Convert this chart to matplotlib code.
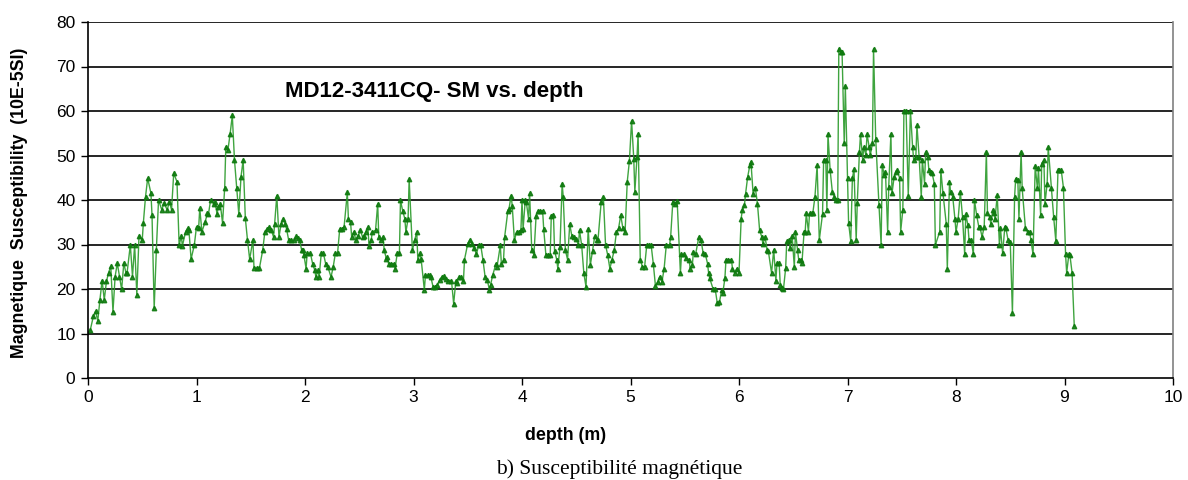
import numpy as np
import matplotlib
matplotlib.use("Agg")
import matplotlib.pyplot as plt

# depth (m) and magnetic susceptibility (10E-5 SI)
depth = [
    0.02, 0.05, 0.07, 0.09, 0.11, 0.13, 0.15, 0.17, 0.19, 0.21, 0.23, 0.25, 0.27, 0.29, 0.31, 0.33, 0.35, 0.36,
    0.39, 0.41, 0.43, 0.45, 0.47, 0.50, 0.51, 0.53, 0.55, 0.58, 0.59, 0.61, 0.63, 0.65, 0.68, 0.70, 0.73, 0.75,
    0.77, 0.79, 0.82, 0.84, 0.86, 0.87, 0.90, 0.92, 0.93, 0.95, 0.98, 1.00, 1.02, 1.03, 1.05, 1.08, 1.10, 1.11,
    1.13, 1.16, 1.17, 1.19, 1.20, 1.22, 1.24, 1.26, 1.27, 1.29, 1.31, 1.33, 1.35, 1.37, 1.39, 1.41, 1.43, 1.45,
    1.47, 1.49, 1.52, 1.53, 1.56, 1.58,
    1.61, 1.63, 1.65, 1.67, 1.69, 1.71, 1.72, 1.74, 1.76, 1.78, 1.80, 1.82, 1.83, 1.85, 1.87, 1.90, 1.92, 1.94,
    1.95, 1.97, 1.98, 1.99, 2.01, 2.02, 2.05, 2.07, 2.09, 2.10, 2.12, 2.13, 2.15, 2.17, 2.19, 2.21, 2.24, 2.26,
    2.28, 2.30, 2.32, 2.34, 2.36, 2.39, 2.40, 2.42, 2.43, 2.45, 2.47, 2.49, 2.51, 2.53, 2.54, 2.56, 2.58, 2.59,
    2.61, 2.62, 2.65, 2.67, 2.68, 2.70, 2.72, 2.73, 2.75, 2.76, 2.77, 2.79, 2.82, 2.83, 2.85, 2.87, 2.88, 2.90,
    2.92, 2.93, 2.95, 2.96, 2.99, 3.01, 3.03, 3.04, 3.06, 3.07, 3.10, 3.11, 3.13, 3.15,
    3.16, 3.18, 3.20, 3.22, 3.24, 3.26, 3.28, 3.30, 3.32, 3.35, 3.37, 3.39, 3.40, 3.42, 3.44, 3.46, 3.47, 3.50,
    3.52, 3.54, 3.56, 3.58, 3.60, 3.62, 3.64, 3.66, 3.68, 3.70, 3.71, 3.73, 3.76, 3.77, 3.80, 3.81, 3.83, 3.84,
    3.87, 3.88, 3.90, 3.91, 3.93, 3.95, 3.97, 3.99, 4.00, 4.01, 4.03, 4.04, 4.06, 4.07, 4.09, 4.11, 4.13, 4.15,
    4.17, 4.19, 4.20, 4.22, 4.24, 4.26, 4.27, 4.29, 4.30, 4.32, 4.33, 4.35, 4.37, 4.38, 4.40, 4.42, 4.44, 4.46,
    4.48, 4.50, 4.52, 4.53, 4.55, 4.57, 4.59, 4.61, 4.63, 4.65, 4.67, 4.69, 4.70,
    4.73, 4.75, 4.77, 4.79, 4.81, 4.83, 4.85, 4.87, 4.89, 4.91, 4.93, 4.95, 4.97, 4.99, 5.01, 5.03, 5.04, 5.06,
    5.07, 5.09, 5.11, 5.13, 5.15, 5.17, 5.19, 5.21, 5.23, 5.25, 5.27, 5.29, 5.31, 5.33, 5.36, 5.37, 5.39, 5.41,
    5.43, 5.46, 5.47, 5.49, 5.51, 5.54, 5.55, 5.57, 5.58, 5.60, 5.63, 5.65, 5.67, 5.69, 5.71, 5.72, 5.73, 5.76,
    5.78, 5.80, 5.82, 5.84, 5.85, 5.87, 5.88, 5.90, 5.93, 5.94, 5.96, 5.98, 6.00, 6.02, 6.03, 6.05, 6.06, 6.08,
    6.10, 6.11, 6.13, 6.15, 6.17, 6.19, 6.21, 6.22, 6.24, 6.26, 6.27, 6.30,
    6.32, 6.34, 6.35, 6.37, 6.38, 6.40, 6.41, 6.43, 6.44, 6.46, 6.47, 6.49, 6.51, 6.52, 6.54, 6.55, 6.57, 6.58,
    6.60, 6.61, 6.62, 6.64, 6.65, 6.67, 6.68, 6.70, 6.72, 6.74, 6.77, 6.78, 6.80, 6.81, 6.82, 6.84, 6.86, 6.88,
    6.89, 6.91, 6.92, 6.94, 6.95, 6.97, 6.98, 7.00, 7.01, 7.03, 7.045, 7.06, 7.08, 7.09, 7.11, 7.12, 7.14, 7.15,
    7.17, 7.18, 7.20, 7.21, 7.23, 7.24, 7.26, 7.29, 7.31, 7.32, 7.34, 7.35, 7.37, 7.38, 7.40, 7.41, 7.43, 7.45,
    7.46, 7.48, 7.49, 7.51, 7.52, 7.54, 7.56, 7.58, 7.60, 7.61, 7.63, 7.64, 7.66, 7.68, 7.69, 7.71, 7.72, 7.74,
    7.75, 7.77, 7.78, 7.80, 7.81, 7.85, 7.86,
    7.88, 7.91, 7.92, 7.94, 7.95, 7.97, 7.99, 8.00, 8.02, 8.04, 8.06, 8.08, 8.09, 8.11, 8.12, 8.14, 8.16, 8.17,
    8.19, 8.21, 8.22, 8.24, 8.26, 8.28, 8.29, 8.31, 8.32, 8.34, 8.35, 8.36, 8.38, 8.40, 8.41, 8.43, 8.45, 8.46,
    8.48, 8.50, 8.52, 8.54, 8.55, 8.57, 8.58, 8.60, 8.61, 8.64, 8.66, 8.68, 8.69, 8.71, 8.73, 8.75, 8.76, 8.78,
    8.79, 8.81, 8.82, 8.84, 8.85, 8.88, 8.90, 8.92, 8.94, 8.95, 8.97, 8.99, 9.01, 9.02, 9.04, 9.05, 9.07, 9.09,
]

sm = [
    10.7, 13.9, 15.0, 12.8, 17.6, 21.9, 17.6, 21.7, 23.7, 25.1, 14.9, 22.8, 25.8, 22.8, 19.9, 25.8, 23.6, 23.6,
    29.9, 22.8, 29.9, 18.7, 31.9, 31.0, 34.8, 40.7, 44.9, 41.5, 36.6, 15.7, 28.8, 40.0, 37.8, 39.3, 37.8, 39.6,
    37.8, 46.0, 44.1, 29.9, 31.8, 29.7, 32.9, 33.7, 33.3, 26.7, 29.9, 34.0, 33.8, 38.1, 32.9, 35.1, 37.0, 36.8,
    40.0, 39.1, 39.6, 36.8, 38.5, 39.0, 34.8, 42.8, 51.9, 51.3, 54.9, 59.0, 49.0, 42.8, 36.8, 45.2, 49.0, 35.9,
    31.0, 26.7, 31.0, 24.7, 24.7, 24.7,
    28.7, 32.8, 33.5, 33.9, 33.2, 31.7, 34.6, 41.0, 31.7, 34.6, 35.8, 34.6, 33.5, 30.9, 30.9, 30.9, 31.8, 31.5,
    30.9, 28.7, 28.7, 27.6, 24.6, 28.0, 28.0, 25.7, 24.2, 22.7, 24.2, 22.7, 28.0, 28.0, 25.7, 25.0, 22.7, 25.0,
    28.0, 28.0, 33.5, 33.5, 33.9, 41.7, 35.8, 35.0, 31.7, 32.8, 30.9, 32.0, 33.2, 31.7, 31.8, 32.8, 33.9, 29.6,
    30.9, 32.8, 33.2, 39.1, 31.7, 30.9, 31.7, 28.7, 26.8, 27.2, 25.7, 25.7, 25.7, 24.6, 28.0, 28.0, 39.9, 37.6,
    35.8, 32.8, 35.8, 44.7, 28.7, 30.9, 32.8, 26.5, 28.0, 26.8, 19.8, 23.1, 23.1, 23.1,
    22.7, 20.5, 20.5, 20.9, 22.0, 22.7, 22.9, 22.2, 21.9, 21.9, 16.7, 21.7, 21.4, 22.7, 22.7, 21.7, 26.6, 30.2,
    31.1, 30.2, 29.3, 27.8, 29.8, 29.8, 26.6, 22.7, 22.0, 19.8, 20.9, 23.1, 25.7, 25.0, 29.8, 25.6, 26.6, 31.7,
    37.6, 38.0, 41.0, 38.7, 30.9, 32.8, 32.8, 33.2, 39.9, 33.5, 39.9, 39.5, 35.8, 41.5, 28.7, 27.7, 36.5, 37.6,
    37.6, 37.6, 33.5, 27.7, 27.7, 27.7, 36.5, 36.7, 28.6, 26.6, 24.6, 29.4, 43.7, 40.7, 28.7, 26.6, 34.6, 31.8,
    31.7, 31.3, 29.8, 33.2, 29.8, 23.5, 20.5, 33.5, 25.4, 28.6, 31.8, 31.1, 30.9,
    39.6, 40.7, 29.9, 27.6, 24.6, 26.6, 28.7, 32.8, 33.6, 36.6, 33.6, 32.8, 44.1, 48.8, 57.8, 49.3, 41.8, 49.7,
    54.9, 26.6, 25.0, 25.0, 29.9, 29.9, 29.9, 25.7, 20.7, 21.6, 22.8, 21.6, 24.6, 29.9, 29.9, 31.7, 39.6, 39.2,
    39.8, 23.6, 27.8, 27.8, 26.9, 26.6, 24.6, 25.4, 28.4, 27.8, 31.7, 31.0, 28.0, 27.8, 25.7, 23.6, 22.4, 20.1,
    20.1, 16.8, 17.1, 19.7, 19.0, 22.4, 26.6, 26.6, 26.6, 24.6, 23.6, 24.6, 23.6, 35.8, 37.7, 38.8, 41.3, 45.2,
    47.8, 48.6, 41.4, 42.8, 39.2, 33.2, 31.7, 30.1, 31.7, 28.7, 28.6, 23.6,
    28.8, 21.9, 25.8, 25.8, 21.0, 20.2, 20.0, 24.7, 30.7, 31.0, 29.2, 31.8, 24.9, 32.9, 28.8, 26.6, 26.6, 25.8,
    32.9, 32.9, 37.0, 32.9, 37.0, 37.0, 37.0, 40.7, 47.8, 31.0, 36.9, 49.0, 49.0, 37.8, 54.8, 46.7, 41.9, 40.7,
    39.9, 39.9, 74.0, 73.2, 73.2, 52.7, 65.7, 44.9, 34.9, 30.7, 44.9, 46.9, 31.0, 39.3, 50.8, 54.8, 49.0, 51.9,
    50.1, 54.8, 51.9, 50.1, 52.7, 74.0, 53.8, 38.9, 29.9, 47.8, 45.6, 46.3, 32.9, 43.0, 54.8, 41.5, 45.2, 46.3,
    46.7, 44.9, 32.9, 37.8, 60.1, 60.1, 40.9, 60.1, 51.9, 49.0, 49.7, 56.8, 49.7, 40.7, 49.0, 43.7, 50.8, 49.7,
    46.7, 46.3, 46.0, 43.7, 29.9, 32.9, 46.7,
    41.5, 34.7, 24.6, 44.1, 41.8, 40.7, 35.8, 32.8, 35.8, 41.8, 36.2, 27.8, 36.8, 34.3, 31.0, 31.0, 27.8, 40.0,
    36.6, 34.0, 34.0, 31.7, 34.0, 50.8, 37.0, 36.2, 34.7, 37.7, 37.0, 35.8, 41.1, 29.9, 33.6, 28.0, 34.0, 33.6,
    31.0, 30.6, 14.7, 40.7, 44.8, 44.4, 35.8, 50.8, 42.6, 33.6, 32.8, 32.8, 31.0, 27.8, 47.6, 42.7, 47.1, 36.6,
    48.2, 48.9, 39.2, 43.7, 51.9, 42.6, 36.2, 30.8, 46.7, 46.7, 46.7, 42.8, 27.8, 23.6, 27.8, 27.6, 23.6, 11.7,
]

x_ticks = list(range(0, 11))
y_ticks = list(range(0, 81, 10))

W, H = 1188, 480
fig = plt.figure(figsize=(W/100, H/100), dpi=100)
ax = fig.add_axes([88/W, 1 - 378/H, (1173-88)/W, (378-22)/H])

ax.plot(depth, sm, color="#2a9a2a", lw=1.0, alpha=0.9,
        marker="^", markersize=3.2, markerfacecolor="#0f7a0f", markeredgecolor="#0f7a0f")

ax.set_xlim(0, 10)
ax.set_ylim(0, 80)
ax.set_xticks(x_ticks)
ax.set_yticks(y_ticks)
for y in y_ticks[1:]:
    ax.axhline(y, color="black", lw=1.2, zorder=0)

ax.spines["top"].set_visible(False)
ax.spines["right"].set_color("#808080")
ax.spines["right"].set_linewidth(1.2)
for s in ["left", "bottom"]:
    ax.spines[s].set_linewidth(1.2)
ax.tick_params(direction="out", length=5, width=1.0, labelsize=12.5, pad=4)
for lab in ax.get_xticklabels() + ax.get_yticklabels():
    lab.set_family("Liberation Sans")

# axis titles placed where the original puts them
fig.text(566/W, 1 - 435/H, "depth (m)", ha="center", va="center",
         fontsize=12.8, fontweight="bold", family="Liberation Sans")
fig.text(20/W, 1 - 203/H, "Magnetique  Susceptibility  (10E-5SI)", ha="center", va="center",
         rotation=90, fontsize=12.8, fontweight="bold", family="Liberation Sans")

fig.text(285/W, 1 - 92/H, "MD12-3411CQ- SM vs. depth", ha="left", va="center",
         fontsize=16, fontweight="bold", family="Liberation Sans")

fig.text(619/W, 1 - 469/H, "b) Susceptibilité magnétique", ha="center", va="center",
         fontsize=15.5, family="Liberation Serif")

fig.savefig("out.png", dpi=100)
